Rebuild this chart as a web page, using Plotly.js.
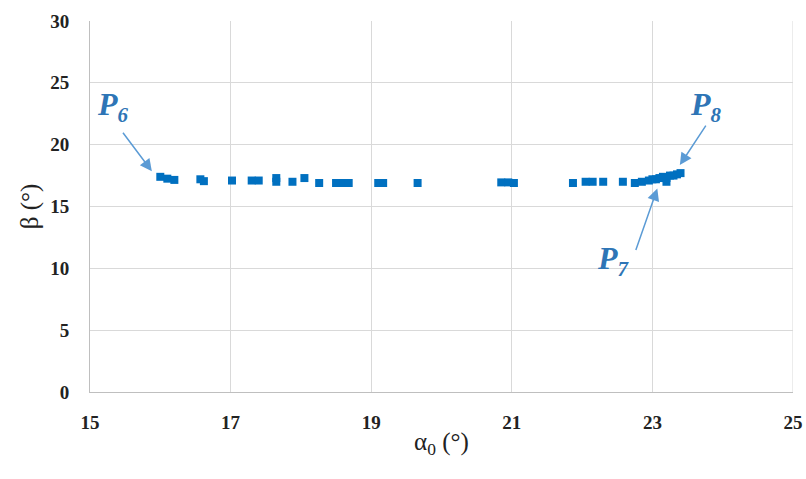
<!DOCTYPE html>
<html>
<head>
<meta charset="utf-8">
<script src="https://cdn.plot.ly/plotly-3.0.1.min.js"></script>
<style>html,body{margin:0;padding:0;background:#fff;}#chart{width:806px;height:479px;}</style>
</head>
<body>
<div id="chart"></div>
<script>
// data
var alpha0 = [16.0, 16.1, 16.2, 16.57, 16.62, 17.02, 17.3, 17.4, 17.65, 17.65, 17.88, 18.05, 18.26, 18.5, 18.6, 18.68, 19.1, 19.17, 19.66, 20.85, 20.95, 21.03, 21.87, 22.05, 22.15, 22.3, 22.58, 22.75, 22.85, 22.95, 23.0, 23.05, 23.1, 23.15, 23.2, 23.2, 23.25, 23.3, 23.35, 23.4];
var beta = [17.4, 17.25, 17.15, 17.2, 17.05, 17.1, 17.1, 17.1, 17.3, 17.0, 17.0, 17.3, 16.9, 16.9, 16.9, 16.9, 16.9, 16.9, 16.9, 16.95, 16.95, 16.9, 16.9, 17.0, 17.0, 17.0, 17.0, 16.9, 17.0, 17.1, 17.2, 17.2, 17.3, 17.4, 17.3, 17.0, 17.5, 17.5, 17.6, 17.7];
var xTicks = [15, 17, 19, 21, 23, 25];
var yTicks = [0, 5, 10, 15, 20, 25, 30];
var labelSubs = ["6", "7", "8"];

var serif = "Liberation Serif, Times New Roman, serif";
var arrowColor = "#5B9BD5";
var labelColor = "#2E75B6";

var trace = {
  x: alpha0, y: beta, type: "scatter", mode: "markers",
  marker: {symbol: "square", size: 8, color: "#0070C0"},
  hoverinfo: "x+y"
};

function arrow(x, y, ax, ay) {
  return {x: x, y: y, xref: "x", yref: "y", ax: ax, ay: ay, text: "", showarrow: true,
    arrowhead: 2, arrowsize: 1.6, arrowwidth: 1.5, arrowcolor: arrowColor};
}
function label(x, y, sub) {
  return {x: x, y: y, xref: "x", yref: "y",
    text: "P<sub><span style='font-size:21px'>" + sub + "</span></sub>", showarrow: false,
    font: {family: serif, size: 32, color: labelColor, weight: "bold", style: "italic"}};
}

var layout = {
  width: 806, height: 479,
  margin: {l: 90, r: 13, t: 21, b: 87},
  paper_bgcolor: "#fff", plot_bgcolor: "#fff",
  showlegend: false,
  xaxis: {
    range: [15, 25], tickvals: xTicks, ticktext: xTicks.map(String),
    showgrid: true, gridcolor: "#D9D9D9", gridwidth: 1,
    zeroline: false, showline: true, linecolor: "#BFBFBF", linewidth: 1,
    ticks: "", ticklabelstandoff: 13,
    tickfont: {family: serif, size: 19, color: "#222", weight: "bold"},
    title: {text: "α<sub>0</sub> (°)", font: {family: serif, size: 25, color: "#222"}, standoff: 0}
  },
  yaxis: {
    range: [0, 30], tickvals: yTicks, ticktext: yTicks.map(String),
    showgrid: true, gridcolor: "#D9D9D9", gridwidth: 1,
    zeroline: false, showline: true, linecolor: "#BFBFBF", linewidth: 1,
    ticks: "", ticklabelstandoff: 16,
    tickfont: {family: serif, size: 19, color: "#222", weight: "bold"},
    title: {text: "β (°)", font: {family: serif, size: 25, color: "#222"}, standoff: 4}
  },
  shapes: [
    {type: "line", xref: "x", yref: "paper", x0: 25, x1: 25, y0: 0, y1: 1, line: {color: "#D9D9D9", width: 1}}
  ],
  annotations: [
    arrow(15.88, 17.85, -30, -40),
    arrow(23.07, 16.45, -22, 63),
    arrow(23.39, 18.35, 27, -41),
    label(15.32, 23.1, labelSubs[0]),
    label(22.45, 10.6, labelSubs[1]),
    label(23.76, 23.1, labelSubs[2])
  ]
};

Plotly.newPlot("chart", [trace], layout, {displayModeBar: false, staticPlot: true});
</script>
</body>
</html>
